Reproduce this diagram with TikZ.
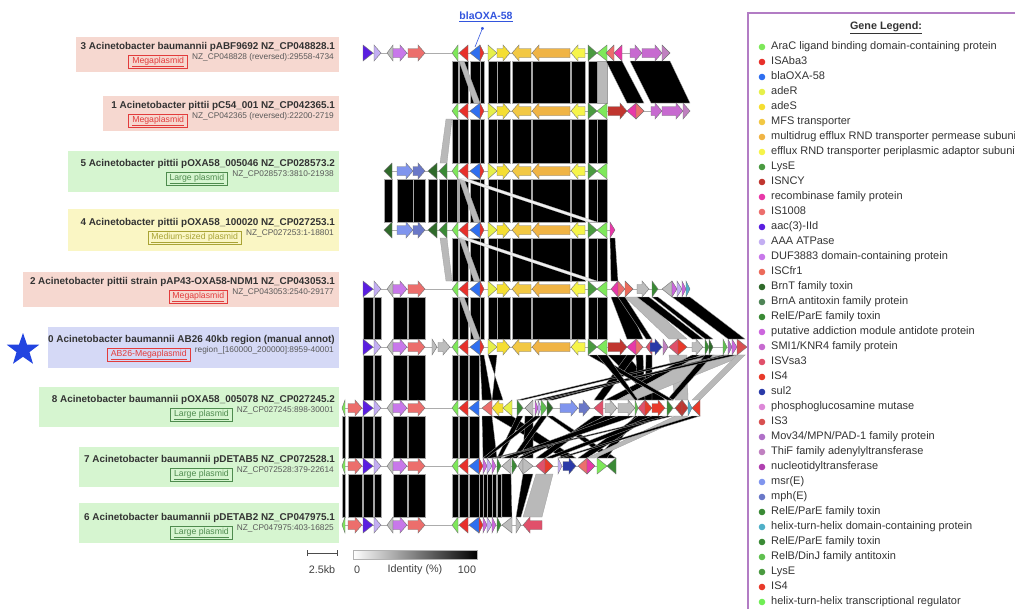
\documentclass[tikz,border=0pt]{standalone}
\usepackage{fontspec}
\setmainfont{Liberation Sans}
\usetikzlibrary{positioning,shapes.geometric,arrows.meta}

% gene colours
\definecolor{araC}{HTML}{7EE85A}
\definecolor{isaba}{HTML}{E8302A}
\definecolor{oxa}{HTML}{2F6FF0}
\definecolor{adeR}{HTML}{E6F04A}
\definecolor{adeS}{HTML}{F5DE32}
\definecolor{mfs}{HTML}{F2C844}
\definecolor{rnd}{HTML}{F0B445}
\definecolor{peri}{HTML}{F6F44A}
\definecolor{lysE}{HTML}{4A9A40}
\definecolor{isncy}{HTML}{C0362F}
\definecolor{recomb}{HTML}{E838A8}
\definecolor{is1008}{HTML}{EC6E6C}
\definecolor{aac}{HTML}{5A1EE0}
\definecolor{aaa}{HTML}{C3AEF2}
\definecolor{duf}{HTML}{C878EA}
\definecolor{iscfr}{HTML}{EC6A5A}
\definecolor{brnT}{HTML}{2F6A2A}
\definecolor{brnA}{HTML}{4E8456}
\definecolor{rele}{HTML}{3A8A35}
\definecolor{addict}{HTML}{CC66DD}
\definecolor{smi}{HTML}{C76AD0}
\definecolor{isvsa}{HTML}{E0506A}
\definecolor{isfour}{HTML}{E83A2A}
\definecolor{sul}{HTML}{2A3AA8}
\definecolor{pgm}{HTML}{DD88D8}
\definecolor{isthree}{HTML}{D85050}
\definecolor{mov}{HTML}{B070C8}
\definecolor{thif}{HTML}{C080C0}
\definecolor{nucl}{HTML}{B040B0}
\definecolor{msr}{HTML}{8095EE}
\definecolor{mph}{HTML}{6A78C8}
\definecolor{hth}{HTML}{50B0C8}
\definecolor{relb}{HTML}{60C050}
\definecolor{htr}{HTML}{70EE55}
\definecolor{greygene}{HTML}{BDBDBD}
% panel colours
\definecolor{megabg}{HTML}{F6D8D0}
\definecolor{largebg}{HTML}{D6F5D0}
\definecolor{medbg}{HTML}{FAF6C4}
\definecolor{mainbg}{HTML}{D5D9F6}
\definecolor{megafg}{HTML}{E23C3C}
\definecolor{largefg}{HTML}{4E8B4E}
\definecolor{medfg}{HTML}{A9A335}
\definecolor{frame}{HTML}{B27CC4}
\definecolor{starblue}{HTML}{2244E0}
\definecolor{linkblue}{HTML}{3355DD}

% arrow from #1 to #2 on row #3, fill #4
\newcommand{\genearrow}[4]{%
  \pgfmathsetmacro\glen{abs(#2-#1)}%
  \pgfmathsetmacro\gdir{(#2>#1)?1:-1}%
  \pgfmathsetmacro\gneck{#2-(\gdir)*min(\glen,7)}%
  \pgfmathtruncatemacro\gsmall{\glen<11}%
  \ifnum\gsmall=1
    \filldraw[genebox,fill=#4] (#1,#3-8) -- (#2,#3) -- (#1,#3+8) -- cycle;
  \else
    \filldraw[genebox,fill=#4] (#1,#3-4.5) -- (\gneck,#3-4.5) -- (\gneck,#3-8) -- (#2,#3)
      -- (\gneck,#3+8) -- (\gneck,#3+4.5) -- (#1,#3+4.5) -- cycle;
  \fi}
% band from #1..#2 on row #3 to #4..#5 on row #6
\newcommand{\genelink}[7]{%
  \filldraw[#7] (#1,#3+8) -- (#2,#3+8) -- (#5,#6-8) -- (#4,#6-8) -- cycle;}

\tikzset{
  genebox/.style={draw=black!55,line width=0.4pt},
  band/.style={fill=black,draw=gray!70,line width=0.3pt},
  pale/.style={fill=gray!55,draw=gray!75,line width=0.3pt},
  faint/.style={fill=gray!12,draw=gray!55,line width=0.3pt},
  track/.style={draw=gray!65,line width=0.8pt},
  rowtitle/.style={anchor=east,inner sep=0pt,text=black!80,font=\fontsize{9.9}{11}\bfseries\selectfont},
  rowsub/.style={anchor=east,inner sep=0pt,text=black!65,font=\fontsize{8.3}{10}\selectfont},
  tagbox/.style={draw,line width=0.8pt,inner xsep=3.5pt,inner ysep=1.5pt,font=\fontsize{8.7}{10}\selectfont},
  megatag/.style={tagbox,draw=megafg,text=megafg},
  largetag/.style={tagbox,draw=largefg,text=largefg},
  medtag/.style={tagbox,draw=medfg,text=medfg},
  legdot/.style={circle,inner sep=0pt,minimum size=6.6pt},
  legtext/.style={inner sep=0pt,text height=8pt,text depth=2.5pt,text=black!80,font=\fontsize{11}{13}\selectfont},
  scaletext/.style={inner sep=0pt,text=black!75,font=\fontsize{10.8}{12}\selectfont}
}

\begin{document}
\begin{tikzpicture}[x=1pt,y=-1pt]
  \useasboundingbox (0,0) rectangle (1015,608);
  \clip (0,0) rectangle (1015,608);

  % cluster panels
  \fill[megabg]  (76,37)  rectangle (339,72);
  \fill[megabg]  (103,96) rectangle (339,131);
  \fill[largebg] (68,151) rectangle (339,192);
  \fill[medbg]   (68,209) rectangle (339,251);
  \fill[megabg]  (23,272) rectangle (339,307);
  \fill[mainbg]  (48,327) rectangle (339,368);
  \fill[largebg] (39,387) rectangle (339,427);
  \fill[largebg] (79,447) rectangle (339,487);
  \fill[largebg] (79,503) rectangle (339,543);

  \node[rowtitle] (t3) at (335,47)  {3 Acinetobacter baumannii pABF9692 NZ\_CP048828.1};
  \node[rowsub]   (s3) at (334,57)  {NZ\_CP048828 (reversed):29558-4734};
  \node[megatag, left=4pt of s3, yshift=-5pt] (g3) {\underline{Megaplasmid}};
  \node[rowtitle] (t1) at (335,106) {1 Acinetobacter pittii pC54\_001 NZ\_CP042365.1};
  \node[rowsub]   (s1) at (334,116) {NZ\_CP042365 (reversed):22200-2719};
  \node[megatag, left=4pt of s1, yshift=-5pt] (g1) {\underline{Megaplasmid}};
  \node[rowtitle] (t5) at (335,164) {5 Acinetobacter pittii pOXA58\_005046 NZ\_CP028573.2};
  \node[rowsub]   (s5) at (334,174) {NZ\_CP028573:3810-21938};
  \node[largetag, left=4pt of s5, yshift=-5pt] (g5) {\underline{Large plasmid}};
  \node[rowtitle] (t4) at (335,223) {4 Acinetobacter pittii pOXA58\_100020 NZ\_CP027253.1};
  \node[rowsub]   (s4) at (334,233) {NZ\_CP027253:1-18801};
  \node[medtag, left=4pt of s4, yshift=-5pt] (g4) {\underline{Medium-sized plasmid}};
  \node[rowtitle] (t2) at (335,282) {2 Acinetobacter pittii strain pAP43-OXA58-NDM1 NZ\_CP043053.1};
  \node[rowsub]   (s2) at (334,292) {NZ\_CP043053:2540-29177};
  \node[megatag, left=4pt of s2, yshift=-5pt] (g2) {\underline{Megaplasmid}};
  \node[rowtitle] (t0) at (335,340) {0 Acinetobacter baumannii AB26 40kb region (manual annot)};
  \node[rowsub]   (s0) at (334,350) {region\_[160000\_200000]:8959-40001};
  \node[megatag, left=4pt of s0, yshift=-5pt] (g0) {\underline{AB26-Megaplasmid}};
  \node[rowtitle] (t8) at (335,400) {8 Acinetobacter baumannii pOXA58\_005078 NZ\_CP027245.2};
  \node[rowsub]   (s8) at (334,410) {NZ\_CP027245:898-30001};
  \node[largetag, left=4pt of s8, yshift=-5pt] (g8) {\underline{Large plasmid}};
  \node[rowtitle] (t7) at (335,460) {7 Acinetobacter baumannii pDETAB5 NZ\_CP072528.1};
  \node[rowsub]   (s7) at (334,470) {NZ\_CP072528:379-22614};
  \node[largetag, left=4pt of s7, yshift=-5pt] (g7) {\underline{Large plasmid}};
  \node[rowtitle] (t6) at (335,518) {6 Acinetobacter baumannii pDETAB2 NZ\_CP047975.1};
  \node[rowsub]   (s6) at (334,528) {NZ\_CP047975:403-16825};
  \node[largetag, left=4pt of s6, yshift=-5pt] (g6) {\underline{Large plasmid}};

  \node[star,star points=5,star point ratio=2.5,fill=starblue,minimum size=34pt,inner sep=0pt] (star) at (23,350) {};

  % identity links
  \foreach \ya/\yb in {53/111,111/171,171/230,230/289,289/347}
    \foreach \a/\b in {452/458,459/468,470/480,480/484,488/497,497/510,512/531,532/570,571/585,588/597,597/607}
      \genelink{\a}{\b}{\ya}{\a}{\b}{\yb}{band};
  \foreach \ya/\yb in {53/111,171/230,230/289,289/347,347/408,408/466,466/525}
    \genelink{459}{464}{\ya}{474}{480}{\yb}{pale};
  \genelink{597}{607}{53}{597}{607}{111}{pale};
  \genelink{446}{452}{111}{440}{447}{171}{pale};
  \genelink{440}{447}{230}{446}{452}{289}{pale};
  \foreach \a/\b in {384/392,397/413,413/425,428/437,439/447,447/457}
    \genelink{\a}{\b}{171}{\a}{\b}{230}{band};
  \foreach \ya/\yb in {289/347,347/408,408/466,466/525}
    \foreach \a/\b in {363/373,374/381,393/407,408/425}
      \genelink{\a}{\b}{\ya}{\a}{\b}{\yb}{band};
  \foreach \ya/\yb in {408/466,466/525}
    \foreach \a/\b in {342/345,348/362}
      \genelink{\a}{\b}{\ya}{\a}{\b}{\yb}{band};
  \foreach \ya/\yb in {347/408,408/466,466/525}
    \foreach \a/\b in {452/458,459/468,469/479}
      \genelink{\a}{\b}{\ya}{\a}{\b}{\yb}{band};
  \foreach \a/\b in {479/483,483/487,487/492,492/496,497/501}
    \genelink{\a}{\b}{466}{\a}{\b}{525}{band};
  \genelink{482}{492}{408}{483}{497}{466}{band};
  \genelink{459}{468}{171}{588}{597}{230}{faint};
  \genelink{459}{468}{230}{588}{597}{289}{faint};
  % rows 3 to 1
  \genelink{606}{622}{53}{627}{644}{111}{band};
  \genelink{630}{670}{53}{651}{690}{111}{band};
  % rows 4 to 2
  \genelink{610}{615}{230}{611}{618}{289}{band};
  % rows 2 to 0
  \genelink{611}{625}{289}{627}{643}{347}{band};
  \genelink{618}{625}{289}{646}{652}{347}{band};
  \genelink{625}{640}{289}{669}{687}{347}{pale};
  \genelink{637}{649}{289}{692}{703}{347}{band};
  \genelink{652}{658}{289}{705}{713}{347}{band};
  \genelink{672}{690}{289}{728}{745}{347}{band};
  % rows 0 to 8
  \genelink{488}{497}{347}{503}{492}{408}{band};
  \genelink{480}{484}{347}{482}{492}{408}{band};
  \genelink{608}{627}{347}{652}{665}{408}{band};
  \genelink{627}{636}{347}{594}{603}{408}{band};
  \genelink{636}{643}{347}{638}{645}{408}{band};
  \genelink{646}{652}{347}{645}{652}{408}{band};
  \genelink{669}{687}{347}{675}{688}{408}{pale};
  \genelink{692}{703}{347}{605}{617}{408}{band};
  \genelink{700}{745}{347}{618}{635}{408}{pale};
  \genelink{705}{713}{347}{517}{523}{408}{band};
  \genelink{705}{713}{347}{667}{673}{408}{band};
  \genelink{723}{727}{347}{541}{547}{408}{band};
  \genelink{723}{727}{347}{547}{553}{408}{band};
  \genelink{728}{737}{347}{535}{541}{408}{band};
  \genelink{737}{745}{347}{692}{700}{408}{pale};
  \genelink{588}{597}{347}{667}{673}{408}{band};
  \genelink{597}{607}{347}{635}{638}{408}{band};
  % rows 8 to 7
  \genelink{492}{512}{408}{563}{576}{466}{band};
  \genelink{517}{523}{408}{497}{501}{466}{band};
  \genelink{525}{533}{408}{523}{533}{466}{band};
  \genelink{535}{541}{408}{483}{487}{466}{band};
  \genelink{541}{547}{408}{512}{517}{466}{band};
  \genelink{547}{553}{408}{607}{616}{466}{band};
  \genelink{594}{603}{408}{536}{545}{466}{band};
  \genelink{605}{617}{408}{518}{523}{466}{band};
  \genelink{618}{635}{408}{502}{511}{466}{band};
  \genelink{635}{638}{408}{597}{607}{466}{band};
  \genelink{638}{652}{408}{578}{587}{466}{band};
  \genelink{652}{665}{408}{545}{553}{466}{band};
  \genelink{675}{688}{408}{587}{595}{466}{pale};
  \genelink{667}{673}{408}{492}{496}{466}{band};
  \genelink{692}{700}{408}{558}{562}{466}{band};
  % rows 7 to 6
  \genelink{536}{553}{466}{523}{542}{525}{pale};
  \genelink{502}{511}{466}{502}{512}{525}{band};
  \genelink{523}{533}{466}{516}{521}{525}{band};

  % backbones
  \draw[track] (363,53) -- (670,53);
  \draw[track] (452,111) -- (690,111);
  \draw[track] (384,171) -- (607,171);
  \draw[track] (384,230) -- (615,230);
  \draw[track] (363,289) -- (690,289);
  \draw[track] (363,347) -- (747,347);
  \draw[track] (342,408) -- (700,408);
  \draw[track] (342,466) -- (616,466);
  \draw[track] (342,525) -- (542,525);

  % genes
  \foreach \y in {53,289,347,408,466,525}
    \foreach \a/\b/\c in {363/373/aac,374/381/aaa,393/387/greygene,393/407/duf,408/425/is1008}
      \genearrow{\a}{\b}{\y}{\c};
  \foreach \y in {53,111,171,230,289,347}
    \foreach \a/\b/\c in {458/452/araC,468/459/isaba,480/470/oxa,480/484/isaba,488/497/adeR,497/510/adeS,
        531/512/mfs,570/532/rnd,585/571/peri,588/597/lysE,607/597/araC}
      \genearrow{\a}{\b}{\y}{\c};
  \foreach \y in {408,466,525}
    \foreach \a/\b/\c in {345/342/araC,348/362/is1008,458/452/araC,468/459/isaba,479/469/oxa}
      \genearrow{\a}{\b}{\y}{\c};
  \foreach \y in {466,525}
    \foreach \a/\b/\c in {479/483/isaba,483/487/addict,487/492/aaa,492/496/addict,497/501/rele}
      \genearrow{\a}{\b}{\y}{\c};
  \foreach \a/\b/\c in {614/606/is1008,622/614/recomb,630/642/smi,642/662/smi,662/670/thif}
    \genearrow{\a}{\b}{53}{\c};
  \foreach \a/\b/\c in {608/627/isncy,636/627/recomb,636/644/is1008,651/662/smi,662/683/smi,683/690/thif}
    \genearrow{\a}{\b}{111}{\c};
  \foreach \y in {171,230}
    \foreach \a/\b/\c in {392/384/brnT,397/413/msr,413/425/mph,437/428/brnT,447/439/rele}
      \genearrow{\a}{\b}{\y}{\c};
  \genearrow{610}{615}{230}{recomb};
  \foreach \a/\b/\c in {618/611/recomb,618/625/is1008,625/633/iscfr,637/649/greygene,652/658/rele,
      672/662/greygene,672/677/addict,677/682/aaa,682/686/addict,686/690/hth}
    \genearrow{\a}{\b}{289}{\c};
  \foreach \a/\b/\c in {432/437/greygene,438/450/greygene,608/627/isncy,636/627/recomb,636/643/is1008,
      652/646/isvsa,650/662/sul,663/668/thif,678/669/isvsa,678/687/isfour,692/703/greygene,
      705/709/rele,709/713/brnT,723/727/relb,728/732/mov,732/737/addict,737/747/isthree}
    \genearrow{\a}{\b}{347}{\c};
  \foreach \a/\b/\c in {492/482/is1008,503/492/adeS,512/503/adeR,517/523/rele,533/525/greygene,
      535/538/addict,538/541/aaa,541/547/relb,547/553/brnT,560/578/msr,579/590/mph,603/594/isvsa,
      605/617/greygene,618/635/greygene,635/638/relb,645/638/isvsa,645/652/isfour,652/665/isfour,
      667/673/rele,682/675/isncy,682/688/isncy,688/692/hth,700/692/isfour}
    \genearrow{\a}{\b}{408}{\c};
  \foreach \a/\b/\c in {511/502/greygene,512/517/rele,523/518/greygene,523/533/greygene,545/536/isvsa,
      545/553/isfour,558/562/aaa,563/576/sul,587/578/is1008,587/595/recomb,597/607/araC,616/607/rele}
    \genearrow{\a}{\b}{466}{\c};
  \foreach \a/\b/\c in {512/502/greygene,516/521/greygene,542/523/isvsa}
    \genearrow{\a}{\b}{525}{\c};

  % blaOXA-58 callout
  \node[inner sep=0pt,text=linkblue,font=\fontsize{10.5}{12}\bfseries\selectfont] (oxalbl) at (486,17) {\underline{blaOXA-58}};
  \coordinate (oxgene) at (475,47);
  \draw[linkblue,line width=0.6pt,-{Circle[length=3pt]}] (oxgene) -- ([xshift=-3pt,yshift=-5pt]oxalbl.south);

  % scale and identity bar
  \coordinate (sb1) at (307,553);
  \coordinate (sb2) at (338,553);
  \draw[black!70,line width=0.7pt,{Bar[width=6pt]}-{Bar[width=6pt]}] (sb1) -- (sb2);
  \node[scaletext] (sblbl) at (322,570) {2.5kb};
  \shade[left color=white,right color=black] (353,550) rectangle (477,559);
  \draw[gray!60,line width=0.4pt] (353,550) rectangle (477,559);
  \node[scaletext] (id0) at (357,570) {0};
  \node[scaletext] (idlbl) at (415,570) {Identity (\%)};
  \node[scaletext] (id100) at (467,570) {100};

  % gene legend
  \draw[frame,line width=1.2pt] (748,13) rectangle (1040,630);
  \node[inner sep=0pt,text=black!80,font=\fontsize{10.8}{12}\bfseries\selectfont] (legtitle) at (886,28) {\underline{Gene Legend:}};
  \foreach \c/\t [count=\i from 0] in {araC/{AraC ligand binding domain-containing protein},isaba/ISAba3,
      oxa/blaOXA-58,adeR/adeR,adeS/adeS,mfs/MFS transporter,rnd/multidrug efflux RND transporter permease subunit,
      peri/efflux RND transporter periplasmic adaptor subunit,lysE/LysE,isncy/ISNCY,recomb/recombinase family protein,
      is1008/IS1008,aac/aac(3)-IId,aaa/AAA ATPase,duf/DUF3883 domain-containing protein,iscfr/ISCfr1,
      brnT/BrnT family toxin,brnA/BrnA antitoxin family protein,rele/{RelE/ParE family toxin},
      addict/putative addiction module antidote protein,smi/{SMI1/KNR4 family protein},isvsa/ISVsa3,isfour/IS4,
      sul/sul2,pgm/phosphoglucosamine mutase,isthree/IS3,mov/{Mov34/MPN/PAD-1 family protein},
      thif/ThiF family adenylyltransferase,nucl/nucleotidyltransferase,msr/msr(E),mph/mph(E),
      rele/{RelE/ParE family toxin},hth/helix-turn-helix domain-containing protein,rele/{RelE/ParE family toxin},
      relb/{RelB/DinJ family antitoxin},lysE/LysE,isfour/IS4,htr/helix-turn-helix transcriptional regulator}
  {
    \node[legdot,fill=\c] (dot\i) at (762,47+15*\i) {};
    \node[legtext,right=5.5pt of dot\i] (leg\i) {\t};
  }
\end{tikzpicture}
\end{document}
